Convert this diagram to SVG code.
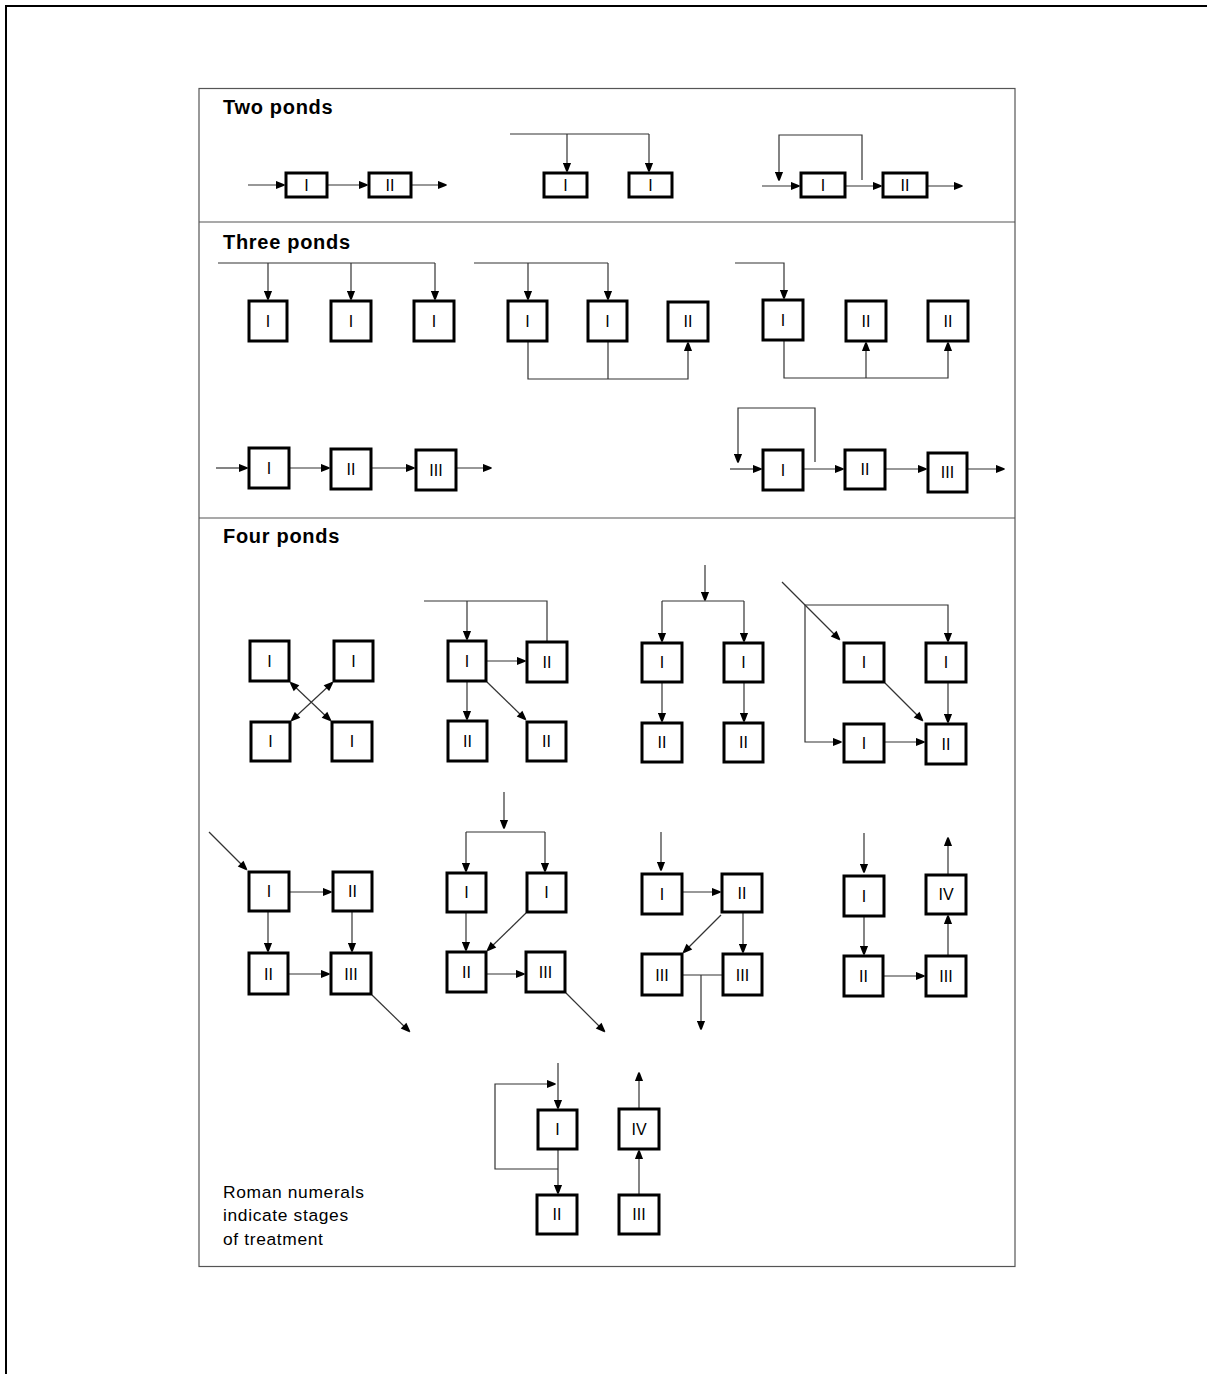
<svg xmlns="http://www.w3.org/2000/svg" width="1207" height="1374" viewBox="0 0 1207 1374">
<style>
.b{fill:#fff;stroke:#000;stroke-width:3}
.t{font-family:"Liberation Sans",Arial,sans-serif;font-size:16px;text-anchor:middle;fill:#000}
.h{font-family:"Liberation Sans",Arial,sans-serif;font-size:20px;font-weight:bold;fill:#000;letter-spacing:0.7px}
.lg{font-family:"Liberation Sans",Arial,sans-serif;font-size:17.4px;fill:#000;letter-spacing:0.65px}
.c path{fill:none;stroke:#333;stroke-width:1.2}
.a{marker-end:url(#ah)}
.d{marker-start:url(#ah);marker-end:url(#ah)}
</style>
<defs>
<marker id="ah" viewBox="0 0 10 10" refX="10" refY="5" markerWidth="10" markerHeight="9" orient="auto-start-reverse" markerUnits="userSpaceOnUse">
<path d="M0,0.5 L8.5,3.8 Q10,5 8.5,6.2 L0,9.5 Z" fill="#000"/>
</marker>
</defs>
<rect width="1207" height="1374" fill="#fff"/>
<path d="M6,1374 V6 H1207" fill="none" stroke="#000" stroke-width="2"/>
<g id="frame" fill="none" stroke="#555" stroke-width="1.2">
<rect x="199" y="88.5" width="816" height="1178"/>
<path d="M199,222 H1015 M199,518 H1015"/>
</g>
<text class="h" x="223" y="114">Two ponds</text>
<text class="h" x="223" y="249">Three ponds</text>
<text class="h" x="223" y="543">Four ponds</text>
<g id="legend">
<text class="lg" x="223" y="1198">Roman numerals</text>
<text class="lg" x="223" y="1221">indicate stages</text>
<text class="lg" x="223" y="1245">of treatment</text>
</g>
<g id="connectors" class="c">
<path class="a" d="M248,185 H285"/>
<path class="a" d="M328,185 H368"/>
<path class="a" d="M412,185 H447"/>
<path d="M510,134 H649"/>
<path class="a" d="M567,134 V172"/>
<path class="a" d="M649,134 V172"/>
<path class="a" d="M762,186 H800"/>
<path class="a" d="M846,186 H882"/>
<path class="a" d="M928,186 H963"/>
<path class="a" d="M862,180 V135 H779 V181"/>
<path d="M218,263 H435"/>
<path class="a" d="M268,263 V300"/>
<path class="a" d="M351,263 V300"/>
<path class="a" d="M435,263 V300"/>
<path d="M474,263 H608"/>
<path class="a" d="M528,263 V300"/>
<path class="a" d="M608,263 V300"/>
<path class="a" d="M528,342 V379 H688 V342"/>
<path d="M608,342 V379"/>
<path class="a" d="M735,263 H784 V299"/>
<path class="a" d="M784,341 V378 H948 V342"/>
<path class="a" d="M866,378 V342"/>
<path class="a" d="M216,468 H248"/>
<path class="a" d="M290,468 H330"/>
<path class="a" d="M372,468 H415"/>
<path class="a" d="M457,468 H492"/>
<path class="a" d="M730,469 H762"/>
<path class="a" d="M804,469 H844"/>
<path class="a" d="M886,469 H927"/>
<path class="a" d="M968,469 H1005"/>
<path class="a" d="M815,462 V408 H738 V463"/>
<path class="d" d="M290,682 L331,721"/>
<path class="d" d="M333,682 L291,721"/>
<path d="M424,601 H547 V641"/>
<path class="a" d="M467,601 V640"/>
<path class="a" d="M487,661 H526"/>
<path class="a" d="M467,682 V720"/>
<path class="a" d="M487,682 L526,720"/>
<path class="a" d="M705,565 V601"/>
<path d="M662,601 H744"/>
<path class="a" d="M662,601 V642"/>
<path class="a" d="M744,601 V642"/>
<path class="a" d="M662,683 V722"/>
<path class="a" d="M744,683 V722"/>
<path class="a" d="M782,582 L840,640"/>
<path class="a" d="M805,605 H948 V642"/>
<path class="a" d="M805,605 V742 H842"/>
<path class="a" d="M885,742 H925"/>
<path class="a" d="M885,683 L923,721"/>
<path class="a" d="M948,683 V723"/>
<path class="a" d="M209,832 L247,870"/>
<path class="a" d="M290,892 H332"/>
<path class="a" d="M268,912 V952"/>
<path class="a" d="M352,912 V952"/>
<path class="a" d="M289,974 H330"/>
<path class="a" d="M372,995 L410,1032"/>
<path class="a" d="M504,792 V829"/>
<path d="M466,832 H545"/>
<path class="a" d="M466,832 V872"/>
<path class="a" d="M545,832 V872"/>
<path class="a" d="M466,913 V951"/>
<path class="a" d="M526,913 L487,951"/>
<path class="a" d="M487,974 H525"/>
<path class="a" d="M566,993 L605,1032"/>
<path class="a" d="M661,832 V871"/>
<path class="a" d="M683,892 H721"/>
<path class="a" d="M743,913 V953"/>
<path class="a" d="M721,915 L683,953"/>
<path d="M683,975 H722"/>
<path class="a" d="M701,975 V1030"/>
<path class="a" d="M864,833 V873"/>
<path class="a" d="M864,917 V955"/>
<path class="a" d="M884,976 H925"/>
<path class="a" d="M948,955 V915"/>
<path class="a" d="M948,874 V837"/>
<path class="a" d="M558,1063 V1109"/>
<path class="a" d="M558,1150 V1194"/>
<path class="a" d="M558,1169 H495 V1084 H556"/>
<path class="a" d="M639,1194 V1150"/>
<path class="a" d="M639,1108 V1072"/>
</g>
<g id="nodes">
<g id="n-a1"><rect class="b" x="286" y="173" width="41" height="24"/><text class="t" x="306.5" y="191">I</text></g>
<g id="n-a2"><rect class="b" x="369" y="173" width="42" height="24"/><text class="t" x="390" y="191">II</text></g>
<g id="n-b1"><rect class="b" x="544" y="173" width="43" height="24"/><text class="t" x="565.5" y="191">I</text></g>
<g id="n-b2"><rect class="b" x="629" y="173" width="43" height="24"/><text class="t" x="650.5" y="191">I</text></g>
<g id="n-c1"><rect class="b" x="801" y="173" width="44" height="24"/><text class="t" x="823" y="191">I</text></g>
<g id="n-c2"><rect class="b" x="883" y="173" width="44" height="24"/><text class="t" x="905" y="191">II</text></g>
<g id="n-d1"><rect class="b" x="249" y="301" width="38" height="40"/><text class="t" x="268" y="327">I</text></g>
<g id="n-d2"><rect class="b" x="331" y="301" width="40" height="40"/><text class="t" x="351" y="327">I</text></g>
<g id="n-d3"><rect class="b" x="414" y="301" width="40" height="40"/><text class="t" x="434" y="327">I</text></g>
<g id="n-e1"><rect class="b" x="508" y="301" width="39" height="40"/><text class="t" x="527.5" y="327">I</text></g>
<g id="n-e2"><rect class="b" x="588" y="301" width="39" height="40"/><text class="t" x="607.5" y="327">I</text></g>
<g id="n-e3"><rect class="b" x="668" y="302" width="40" height="39"/><text class="t" x="688" y="327">II</text></g>
<g id="n-f1"><rect class="b" x="763" y="300" width="40" height="40"/><text class="t" x="783" y="326">I</text></g>
<g id="n-f2"><rect class="b" x="846" y="301" width="40" height="40"/><text class="t" x="866" y="327">II</text></g>
<g id="n-f3"><rect class="b" x="928" y="301" width="40" height="40"/><text class="t" x="948" y="327">II</text></g>
<g id="n-g1"><rect class="b" x="249" y="448" width="40" height="40"/><text class="t" x="269" y="474">I</text></g>
<g id="n-g2"><rect class="b" x="331" y="449" width="40" height="40"/><text class="t" x="351" y="475">II</text></g>
<g id="n-g3"><rect class="b" x="416" y="450" width="40" height="40"/><text class="t" x="436" y="476">III</text></g>
<g id="n-h1"><rect class="b" x="763" y="450" width="40" height="40"/><text class="t" x="783" y="476">I</text></g>
<g id="n-h2"><rect class="b" x="845" y="450" width="40" height="39"/><text class="t" x="865" y="475">II</text></g>
<g id="n-h3"><rect class="b" x="928" y="453" width="39" height="39"/><text class="t" x="947.5" y="478">III</text></g>
<g id="n-i1"><rect class="b" x="250" y="641" width="39" height="40"/><text class="t" x="269.5" y="667">I</text></g>
<g id="n-i2"><rect class="b" x="334" y="641" width="39" height="40"/><text class="t" x="353.5" y="667">I</text></g>
<g id="n-i3"><rect class="b" x="251" y="722" width="39" height="39"/><text class="t" x="270.5" y="747">I</text></g>
<g id="n-i4"><rect class="b" x="332" y="722" width="40" height="39"/><text class="t" x="352" y="747">I</text></g>
<g id="n-j1"><rect class="b" x="448" y="641" width="38" height="40"/><text class="t" x="467" y="667">I</text></g>
<g id="n-j2"><rect class="b" x="527" y="642" width="40" height="40"/><text class="t" x="547" y="668">II</text></g>
<g id="n-j3"><rect class="b" x="448" y="721" width="39" height="40"/><text class="t" x="467.5" y="747">II</text></g>
<g id="n-j4"><rect class="b" x="527" y="722" width="39" height="39"/><text class="t" x="546.5" y="747">II</text></g>
<g id="n-k1"><rect class="b" x="642" y="643" width="40" height="39"/><text class="t" x="662" y="668">I</text></g>
<g id="n-k2"><rect class="b" x="724" y="643" width="39" height="39"/><text class="t" x="743.5" y="668">I</text></g>
<g id="n-k3"><rect class="b" x="642" y="723" width="40" height="39"/><text class="t" x="662" y="748">II</text></g>
<g id="n-k4"><rect class="b" x="724" y="723" width="39" height="39"/><text class="t" x="743.5" y="748">II</text></g>
<g id="n-l1"><rect class="b" x="844" y="643" width="40" height="39"/><text class="t" x="864" y="668">I</text></g>
<g id="n-l2"><rect class="b" x="926" y="643" width="40" height="39"/><text class="t" x="946" y="668">I</text></g>
<g id="n-l3"><rect class="b" x="844" y="724" width="40" height="38"/><text class="t" x="864" y="749">I</text></g>
<g id="n-l4"><rect class="b" x="926" y="724" width="40" height="40"/><text class="t" x="946" y="750">II</text></g>
<g id="n-m1"><rect class="b" x="249" y="872" width="40" height="39"/><text class="t" x="269" y="897">I</text></g>
<g id="n-m2"><rect class="b" x="333" y="872" width="39" height="39"/><text class="t" x="352.5" y="897">II</text></g>
<g id="n-m3"><rect class="b" x="249" y="953" width="39" height="41"/><text class="t" x="268.5" y="980">II</text></g>
<g id="n-m4"><rect class="b" x="331" y="953" width="40" height="41"/><text class="t" x="351" y="980">III</text></g>
<g id="n-o1"><rect class="b" x="447" y="873" width="39" height="39"/><text class="t" x="466.5" y="898">I</text></g>
<g id="n-o2"><rect class="b" x="527" y="873" width="39" height="39"/><text class="t" x="546.5" y="898">I</text></g>
<g id="n-o3"><rect class="b" x="447" y="952" width="39" height="40"/><text class="t" x="466.5" y="978">II</text></g>
<g id="n-o4"><rect class="b" x="526" y="952" width="39" height="40"/><text class="t" x="545.5" y="978">III</text></g>
<g id="n-p1"><rect class="b" x="642" y="874" width="40" height="40"/><text class="t" x="662" y="900">I</text></g>
<g id="n-p2"><rect class="b" x="722" y="874" width="40" height="38"/><text class="t" x="742" y="899">II</text></g>
<g id="n-p3"><rect class="b" x="642" y="954" width="40" height="41"/><text class="t" x="662" y="981">III</text></g>
<g id="n-p4"><rect class="b" x="723" y="954" width="39" height="41"/><text class="t" x="742.5" y="981">III</text></g>
<g id="n-q1"><rect class="b" x="844" y="876" width="40" height="40"/><text class="t" x="864" y="902">I</text></g>
<g id="n-q2"><rect class="b" x="926" y="875" width="40" height="39"/><text class="t" x="946" y="900">IV</text></g>
<g id="n-q3"><rect class="b" x="844" y="956" width="39" height="40"/><text class="t" x="863.5" y="982">II</text></g>
<g id="n-q4"><rect class="b" x="926" y="956" width="40" height="40"/><text class="t" x="946" y="982">III</text></g>
<g id="n-r1"><rect class="b" x="538" y="1110" width="39" height="39"/><text class="t" x="557.5" y="1135">I</text></g>
<g id="n-r2"><rect class="b" x="537" y="1195" width="40" height="39"/><text class="t" x="557" y="1220">II</text></g>
<g id="n-r3"><rect class="b" x="619" y="1109" width="40" height="40"/><text class="t" x="639" y="1135">IV</text></g>
<g id="n-r4"><rect class="b" x="619" y="1195" width="40" height="39"/><text class="t" x="639" y="1220">III</text></g>
</g>
</svg>
